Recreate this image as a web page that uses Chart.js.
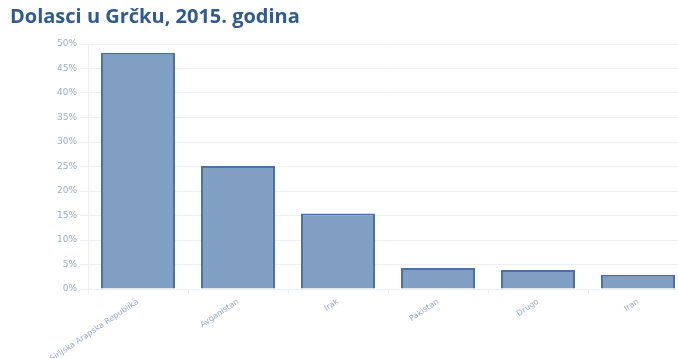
<!DOCTYPE html>
<html lang="hr">
<head>
<meta charset="UTF-8">
<title>Dolasci u Grčku, 2015. godina</title>
<script src="https://cdn.jsdelivr.net/npm/chart.js"></script>
<style>
  html, body { margin: 0; padding: 0; background: #fff; }
  #wrap { width: 678px; height: 358px; overflow: hidden; }
</style>
</head>
<body>
<div id="wrap"><canvas id="arrivals" width="700" height="358"></canvas></div>
<script>
  // share of arrivals by country of origin, percent
  const countries = ['Sirijska Arapska Republika', 'Avganistan', 'Irak', 'Pakistan', 'Drugo', 'Iran'];
  const shares = [48.2, 25.1, 15.4, 4.3, 3.9, 2.9];
  const yTicks = [0, 5, 10, 15, 20, 25, 30, 35, 40, 45, 50];

  const tickColor = '#9aaccb';
  const gridColor = '#eceff4';

  new Chart(document.getElementById('arrivals'), {
    type: 'bar',
    data: {
      labels: countries,
      datasets: [{
        data: shares,
        backgroundColor: '#819fc3',
        borderColor: '#4b72a5',
        borderWidth: 2,
        categoryPercentage: 0.74,
        barPercentage: 1
      }]
    },
    options: {
      responsive: false,
      animation: false,
      layout: { padding: { left: 10, right: 12, top: 0, bottom: 0 } },
      plugins: {
        legend: { display: false },
        tooltip: { enabled: false },
        title: {
          display: true,
          text: 'Dolasci u Grčku, 2015. godina',
          align: 'start',
          color: '#2f5b8e',
          font: { family: 'Open Sans', size: 20, weight: 'bold' },
          padding: { top: 5, bottom: 15 }
        }
      },
      scales: {
        x: {
          grid: { display: true, drawOnChartArea: false, color: gridColor, tickLength: 5 },
          border: { color: gridColor },
          ticks: {
            color: tickColor,
            font: { family: 'DejaVu Sans', size: 8 },
            minRotation: 34,
            maxRotation: 34,
            padding: 3
          },
          afterFit: s => { s.height = 69; }
        },
        y: {
          min: 0,
          max: 50,
          afterBuildTicks: s => { s.ticks = yTicks.map(v => ({ value: v })); },
          grid: { color: gridColor, tickLength: 8 },
          border: { color: gridColor },
          ticks: {
            color: tickColor,
            font: { family: 'DejaVu Sans', size: 9 },
            padding: 3,
            callback: v => v + '%'
          },
          afterFit: s => { s.width = 78; }
        }
      }
    }
  });
</script>
</body>
</html>
